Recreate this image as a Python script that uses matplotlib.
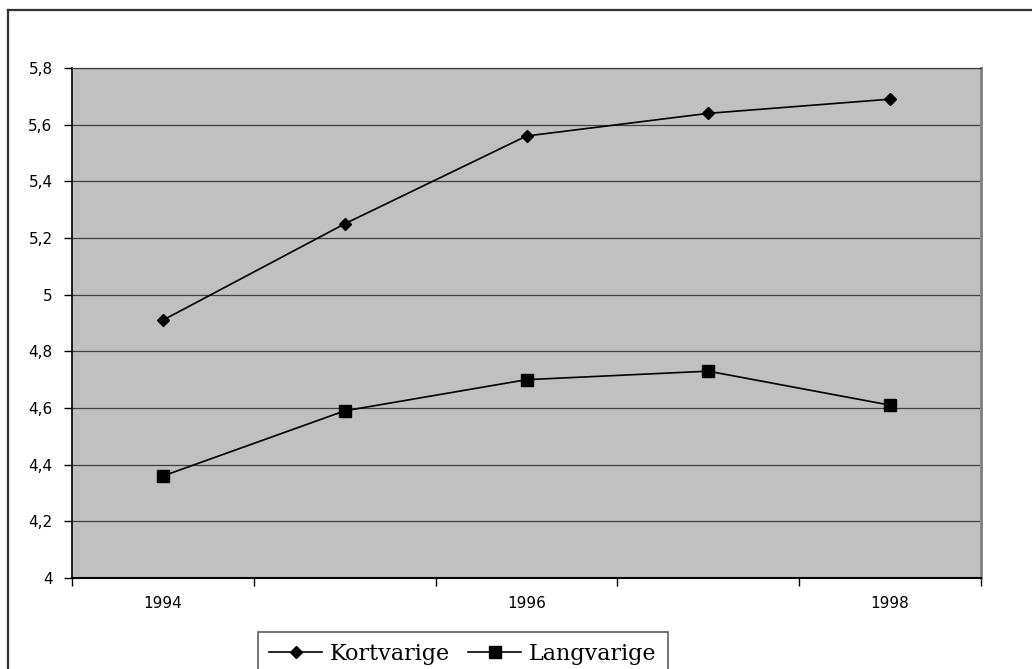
import numpy as np
import matplotlib
matplotlib.use("Agg")
import matplotlib.pyplot as plt
from matplotlib.lines import Line2D

# data
years = [1994, 1995, 1996, 1997, 1998]
kortvarige = [4.91, 5.25, 5.56, 5.64, 5.69]
langvarige = [4.36, 4.59, 4.70, 4.73, 4.61]
y_ticks = [4.0, 4.2, 4.4, 4.6, 4.8, 5.0, 5.2, 5.4, 5.6, 5.8]

W, H = 1032, 669
fig = plt.figure(figsize=(W / 100, H / 100), dpi=100)
fig.patch.set_facecolor("white")

# outer chart border (left + top visible, rest runs off the image)
fig.add_artist(Line2D([8 / W, 8 / W], [0, 1 - 10 / H], transform=fig.transFigure,
                      color="#333333", lw=1.6))
fig.add_artist(Line2D([8 / W, 1], [1 - 10 / H, 1 - 10 / H], transform=fig.transFigure,
                      color="#333333", lw=1.6))

ax = fig.add_axes([72 / W, 1 - 578 / H, (981 - 72) / W, (578 - 68) / H])
ax.set_facecolor("#C0C0C0")

x = np.arange(1, len(years) + 1)
ax.plot(x, kortvarige, color="black", lw=1.2, marker="D", markersize=6.5,
        label="Kortvarige")
ax.plot(x, langvarige, color="black", lw=1.2, marker="s", markersize=8,
        label="Langvarige")

ax.set_xlim(0.5, len(years) + 0.5)
ax.set_ylim(4.0, 5.8)
ax.set_yticks(y_ticks)
ax.set_yticklabels(["4" if v == 4.0 else "5" if v == 5.0 else f"{v:.1f}".replace(".", ",")
                    for v in y_ticks])
ax.yaxis.grid(True, color="#404040", lw=0.9)
ax.set_axisbelow(True)

# category boundaries get the ticks, every other year gets a label
ax.set_xticks(np.arange(0.5, len(years) + 1.0, 1.0))
ax.set_xticklabels([])
ax.set_xticks(x[::2], minor=True)
ax.set_xticklabels([str(y) for y in years[::2]], minor=True)
ax.tick_params(axis="x", which="major", direction="out", length=6, width=1, color="black")
ax.tick_params(axis="x", which="minor", length=0, pad=13)
ax.tick_params(axis="y", direction="out", length=6, width=1, pad=8)
for lab in ax.get_xticklabels(minor=True) + ax.get_yticklabels():
    lab.set_fontfamily("DejaVu Sans")
    lab.set_fontsize(11)

ax.spines["left"].set_color("black")
ax.spines["bottom"].set_color("black")
ax.spines["left"].set_linewidth(1.2)
ax.spines["bottom"].set_linewidth(1.5)
ax.spines["top"].set_color("#404040")
ax.spines["top"].set_linewidth(0.9)
ax.spines["right"].set_color("#808080")
ax.spines["right"].set_linewidth(2)

leg = fig.legend(loc="upper left", bbox_to_anchor=(258 / W, 1 - 632 / H),
                 ncol=2, frameon=True, fancybox=False, borderaxespad=0,
                 prop={"family": "DejaVu Serif", "size": 16},
                 handlelength=2.4, handletextpad=0.35, columnspacing=0.8,
                 borderpad=0.5)
leg.get_frame().set_edgecolor("#333333")
leg.get_frame().set_linewidth(1.2)

fig.savefig("out.png", dpi=100)
